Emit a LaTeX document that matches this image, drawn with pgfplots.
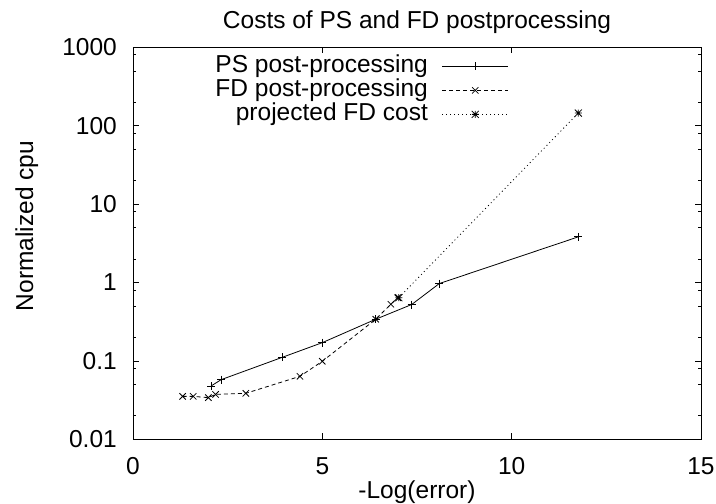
\documentclass[border=0pt]{standalone}
\usepackage{fontspec}
\setmainfont{Liberation Sans}
\usepackage{pgfplots}
\pgfplotsset{compat=1.18}
\pgfdeclareplotmark{gpstar}{%
  \pgfpathmoveto{\pgfqpoint{-\pgfplotmarksize}{0pt}}%
  \pgfpathlineto{\pgfqpoint{\pgfplotmarksize}{0pt}}%
  \pgfpathmoveto{\pgfqpoint{0pt}{-\pgfplotmarksize}}%
  \pgfpathlineto{\pgfqpoint{0pt}{\pgfplotmarksize}}%
  \pgfpathmoveto{\pgfqpoint{-\pgfplotmarksize}{-\pgfplotmarksize}}%
  \pgfpathlineto{\pgfqpoint{\pgfplotmarksize}{\pgfplotmarksize}}%
  \pgfpathmoveto{\pgfqpoint{-\pgfplotmarksize}{\pgfplotmarksize}}%
  \pgfpathlineto{\pgfqpoint{\pgfplotmarksize}{-\pgfplotmarksize}}%
  \pgfusepathqstroke}
\begin{document}
\begin{tikzpicture}
\useasboundingbox (-133pt,-64.7pt) rectangle (583pt,439.3pt);
\begin{axis}[
  scale only axis,
  width=568pt, height=392pt,
  at={(0,0)}, anchor=south west,
  font=\fontsize{24.5}{29}\selectfont,
  /pgf/number format/assume math mode=true,
  xmin=0, xmax=15,
  ymode=log, ymin=0.01, ymax=1000,
  xtick={0,5,10,15},
  xticklabels={0,5,10,15},
  ytick={0.01,0.1,1,10,100,1000},
  yticklabels={0.01,0.1,1,10,100,1000},
  minor ytick={0.02,0.05,0.08,0.2,0.5,0.8,2,5,8,20,50,80,200,500,800},
  major tick length=6pt, minor tick length=3pt,
  tick style={black, line width=0.8pt},
  axis line style={line width=0.9pt},
  xticklabel style={inner sep=0pt, anchor=base, yshift=-35.5pt},
  yticklabel style={inner sep=0pt, anchor=east, xshift=-16pt},
  title={Costs of PS and FD postprocessing},
  title style={inner sep=0pt, anchor=base, at={(axis description cs:0.5,1)}, yshift=12.5pt},
  xlabel={-Log(error)},
  xlabel style={inner sep=0pt, anchor=base, at={(axis description cs:0.5,0)}, yshift=-59pt},
  ylabel={Normalized cpu},
  ylabel style={inner sep=0pt, anchor=center, at={(axis description cs:-0.187,0.544)}},
  legend plot pos=right,
  legend cell align=right,
  legend style={draw=none, fill=none, at={(0.667,0.985)}, anchor=north east,
    nodes={inner sep=0pt, text height=17pt, text depth=5pt},
    column sep=14pt, row sep=2pt},
  legend image code/.code={%
    \draw[mark repeat=2, mark phase=2, #1] plot coordinates {(0pt,0pt) (33pt,0pt) (66pt,0pt)};},
]
\addplot[black, line width=0.8pt, mark=+, mark size=4pt, mark options={solid}]
  coordinates {(2.06,0.0478) (2.33,0.0577) (3.94,0.111) (5.0,0.171) (6.41,0.34) (7.36,0.524) (8.09,0.97) (11.76,3.82)};
\addlegendentry{PS post-processing}
\addplot[black, line width=0.8pt, dash pattern=on 4pt off 3pt, mark=x, mark size=4.5pt, mark options={solid}]
  coordinates {(1.31,0.0353) (1.59,0.0353) (1.99,0.034) (2.18,0.0374) (2.98,0.0386) (4.41,0.0636) (5.0,0.0989) (6.41,0.34) (6.81,0.528) (6.99,0.64)};
\addlegendentry{FD post-processing}
\addplot[black, line width=0.8pt, dash pattern=on 1pt off 3pt, mark=gpstar, mark size=3.5pt, mark options={solid}]
  coordinates {(7.02,0.64) (11.76,145)};
\addlegendentry{projected FD cost}
\end{axis}
\end{tikzpicture}
\end{document}
